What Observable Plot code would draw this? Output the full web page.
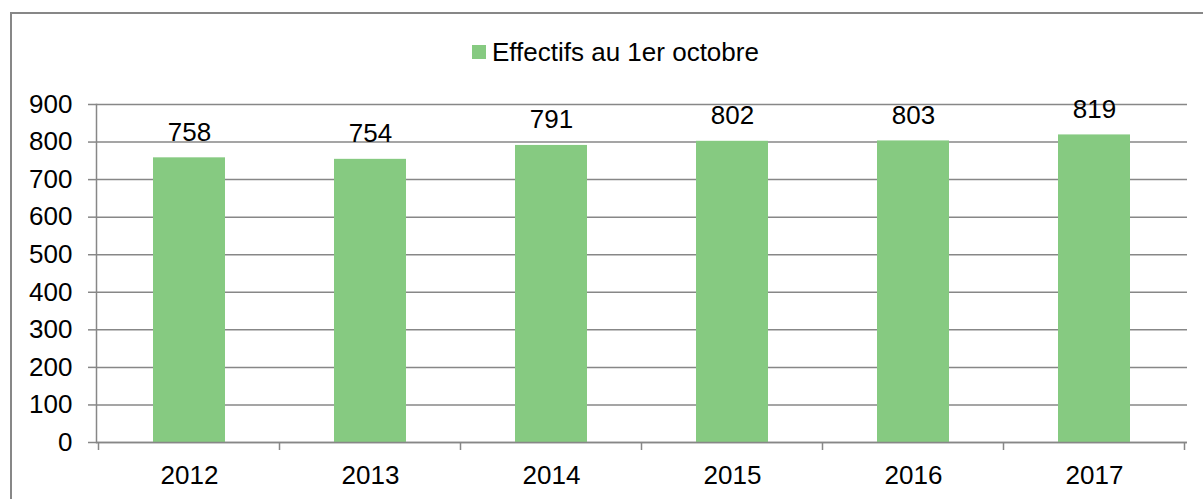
<!DOCTYPE html>
<html>
<head>
<meta charset="utf-8">
<script src="https://cdn.jsdelivr.net/npm/d3@7"></script>
<script src="https://cdn.jsdelivr.net/npm/@observablehq/plot@0.6"></script>
<style>
  html, body { margin: 0; padding: 0; background: #fff; }
  #wrap { position: relative; width: 1203px; height: 499px; overflow: hidden; font-family: "Liberation Sans", Arial, sans-serif; }
  #border { position: absolute; left: 10px; top: 12px; width: 1300px; height: 600px; border-left: 2px solid #878787; border-top: 2px solid #878787; }
  #legend { position: absolute; left: 472px; top: 38px; height: 28px; display: flex; align-items: center; font-size: 26px; color: #000; white-space: nowrap; }
  #legend .sw { width: 14px; height: 14px; background: #86ca81; margin-right: 6px; }
  #chart { position: absolute; left: 0; top: 0; }
</style>
</head>
<body>
<div id="wrap">
  <div id="border"></div>
  <div id="legend"><span class="sw"></span><span id="legendLabel"></span></div>
  <div id="chart"></div>
</div>
<script>
const years = ["2012", "2013", "2014", "2015", "2016", "2017"];
const effectifs = [758, 754, 791, 802, 803, 819];
const yTicks = [0, 100, 200, 300, 400, 500, 600, 700, 800, 900];
const seriesName = "Effectifs au 1er octobre";

const data = years.map((year, i) => ({year, value: effectifs[i]}));
document.getElementById("legendLabel").textContent = seriesName;

const gridColor = "#878787";
const barColor = "#86ca81";

function bandTicks(index, scales, values, dimensions) {
  const x = scales.x;
  const step = x.step(), bw = x.bandwidth();
  const y0 = dimensions.height - dimensions.marginBottom;
  const xs = years.map(d => x(d) + bw / 2 - step / 2);
  xs.push(x(years[years.length - 1]) + bw / 2 + step / 2);
  const g = d3.create("svg:g");
  g.selectAll("line").data(xs).join("line")
    .attr("x1", d => d).attr("x2", d => d)
    .attr("y1", y0).attr("y2", y0 + 8)
    .attr("stroke", gridColor).attr("stroke-width", 1.5);
  return g.node();
}

const chart = Plot.plot({
  width: 1203,
  height: 499,
  marginTop: 104,
  marginBottom: 57,
  marginLeft: 96,
  marginRight: 16,
  style: {fontFamily: "'Liberation Sans', Arial, sans-serif", fontSize: "26px", color: "#000", background: "transparent", overflow: "visible"},
  x: {domain: years, paddingInner: 0.6, paddingOuter: 0.3, align: 0.5, axis: null},
  y: {domain: [0, 900], axis: null},
  marks: [
    Plot.gridY(yTicks, {stroke: gridColor, strokeOpacity: 1, strokeWidth: 1.5}),
    Plot.barY(data, {x: "year", y: "value", fill: barColor}),
    Plot.ruleY([0], {stroke: gridColor, strokeWidth: 1.5}),
    Plot.frame({anchor: "left", stroke: gridColor, strokeWidth: 1.5}),
    Plot.axisY(yTicks, {tickSize: 8, tickPadding: 16, stroke: gridColor, strokeWidth: 1.5, fontSize: 26, label: null, tickFormat: d => String(d)}),
    bandTicks,
    Plot.axisX({tickSize: 0, tickPadding: 23, fontSize: 26, label: null}),
    Plot.text(data, {x: "year", y: "value", text: d => String(d.value), dy: -17, lineAnchor: "bottom", fontSize: 26, fill: "#000"})
  ]
});
document.getElementById("chart").appendChild(chart);
</script>
</body>
</html>
